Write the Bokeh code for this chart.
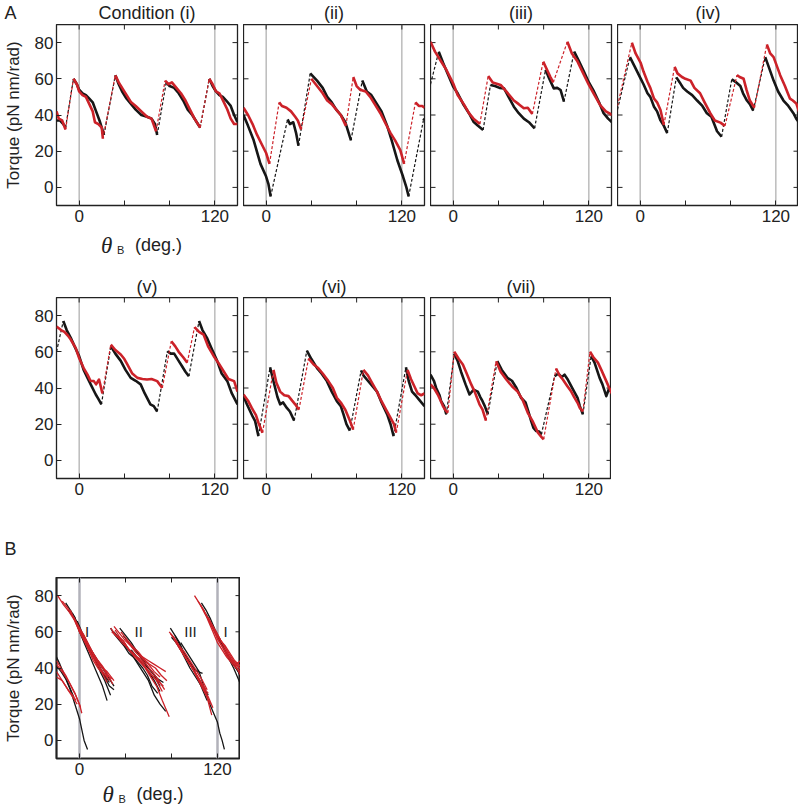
import numpy as np
from bokeh.plotting import figure
from bokeh.layouts import column, row
from bokeh.models import Label, FixedTicker, Span
from bokeh.embed import file_html
from bokeh.resources import INLINE

# ---------------- data ----------------
X_RANGE = (-20, 140)
Y_RANGE = (-10, 90)
x_ticks = [0, 40, 80, 120]
x_tick_labels = {0: "0", 40: "", 80: "", 120: "120"}
y_ticks = [0, 20, 40, 60, 80]
ref_angles = [0, 120]
y_label = "Torque (pN nm/rad)"
titles = ["Condition (i)", "(ii)", "(iii)", "(iv)", "(v)", "(vi)", "(vii)"]

# each trace: list of decreasing segments (x list, y list); consecutive segments are joined by dashed steps
i_black = [
    ([-20, -17, -14, -12], [37, 37, 35, 33]),
    ([-5, -2, 0, 3, 6, 9, 12, 15, 18, 20, 22], [60, 57, 54, 52, 51, 49, 47, 42, 37, 33, 29]),
    ([32, 35, 38, 42, 46, 50, 55, 60, 64, 67, 69], [62, 57, 53, 49, 46, 43, 40, 39, 38, 35, 29]),
    ([77, 80, 84, 88, 92, 96, 100, 104, 107], [58, 56, 55, 52, 48, 43, 40, 36, 33]),
    ([115, 118, 121, 124, 127, 130, 134, 137, 140], [60, 56, 53, 51, 50, 48, 45, 40, 36]),
]
i_red = [
    ([-20, -18, -15, -12], [42, 38, 37, 32]),
    ([-5, -2, 0, 3, 6, 9, 12, 14, 17, 20, 21], [60, 57, 53, 51, 50, 46, 42, 36, 35, 33, 27]),
    ([32, 35, 38, 42, 46, 50, 55, 60, 64, 68], [62, 58, 55, 51, 47, 45, 42, 39, 38, 31]),
    ([76, 79, 82, 86, 90, 94, 98, 102, 107], [59, 57, 58, 55, 52, 48, 43, 38, 33]),
    ([115, 118, 121, 124, 128, 131, 134, 137, 140], [60, 57, 53, 52, 47, 43, 38, 35, 35]),
]
ii_black = [
    ([-20, -16, -11, -5, 0, 2, 4], [40, 34, 26, 13, 6, 2, -5]),
    ([19, 21, 24, 26.5, 28.6], [37.6, 35, 36, 30, 23]),
    ([39, 45, 50, 54, 58, 62, 66, 70, 73, 75], [63, 59, 55, 50, 47, 43, 40, 36, 30, 26]),
    ([85, 89, 93, 98, 102, 107, 111, 116, 121, 124, 126], [59, 53, 51, 46, 42, 34, 26, 15, 6, 0, -5]),
    ([139, 140], [37, 38]),
]
ii_red = [
    ([-20, -16, -12, -8, -4, 0, 3], [44, 40, 35, 29, 24, 19, 13]),
    ([11.5, 14, 18, 22, 25.7, 28, 31], [47, 45, 44, 42, 39, 37, 32]),
    ([40, 45, 50, 54, 58, 62, 66, 70.5], [60, 56, 52, 48, 46, 43, 40, 34]),
    ([77, 80, 83, 88, 92, 96, 101, 105, 110, 114, 118.6, 122], [61, 56, 54, 53, 50, 46, 41, 36, 30, 26, 20.6, 13]),
    ([132, 135, 138, 140], [47, 45, 45, 44]),
]
iii_black = [
    ([-20], [57]),
    ([-12.7, -9, -5, 0, 4, 9.4, 14, 18, 22, 26.5], [75, 69, 63, 55.7, 52, 45.5, 41, 36.3, 34, 31.7]),
    ([33, 37, 41, 45, 49, 53.7, 58, 62.5, 67, 72], [56.6, 56, 55, 54.7, 50, 44.6, 41, 38, 36, 32.6]),
    ([81.7, 85, 89, 92, 95, 98], [65, 60, 54.7, 55, 53.8, 47.4]),
    ([107, 111, 115.6, 120, 124.5, 129, 133, 137, 140.7], [75, 70, 64, 58, 53, 47, 41, 38, 35.8]),
]
iii_red = [
    ([-20, -16, -11, -6, 0, 4, 9.4, 14, 18, 23.6], [80.5, 75, 70, 65, 57.5, 51, 46, 41, 38, 35]),
    ([31, 35, 42, 47, 53.7, 58, 62.5, 66, 70], [61.5, 58, 56.6, 53, 48, 46, 43.7, 44, 40.5]),
    ([79.6, 83, 86, 88.5], [69.5, 65, 61, 58]),
    ([101, 105, 110, 115, 120, 125, 130, 135, 140.7], [80.5, 74, 69.5, 63, 56.6, 51, 45.5, 42, 40]),
]
iv_black = [
    ([-20], [43]),
    ([-9, -5, 0.6, 3, 6.5, 9, 12.3, 15, 18, 21, 24], [72, 67, 60, 57, 52, 50, 44.6, 42, 37, 34, 30]),
    ([32, 35, 38, 41.6, 46, 50.4, 55, 59, 63, 68, 72], [60.8, 58, 55, 53, 51, 48, 45, 41, 39, 31, 28]),
    ([81, 85, 88.6, 91, 94.4, 97, 100], [59.7, 58, 56, 52, 48, 46, 42.4]),
    ([110.6, 114, 118, 122, 126.7, 131, 135.5, 138, 141], [72, 66, 59, 53, 48, 45, 41, 38, 35.4]),
]
iv_red = [
    ([-20], [45]),
    ([-7.3, -4, 0.6, 3, 6.5, 9, 12.3, 15, 18, 21], [80, 74, 68.6, 64, 58.4, 55, 49, 47, 42.8, 34.5]),
    ([30.5, 33, 37, 40, 44.6, 48, 53, 57, 62, 66, 71, 75], [66.7, 63, 61, 60, 59, 55, 52, 47, 41, 37, 35.8, 34]),
    ([85.6, 88, 91.5, 94, 97, 101], [62, 61, 60, 54, 48, 44]),
    ([112, 115, 118, 123.8, 128, 132.5, 135, 138, 141], [79, 74, 72, 62, 56, 49, 48, 46.4, 41]),
]
v_black = [
    ([-20], [60]),
    ([-14, -11, -7.4, -4, 0, 4, 7.4, 11, 14.7, 17, 19.7], [77, 72, 67.7, 63, 57.6, 50, 45.6, 41, 36.4, 34, 31]),
    ([28, 32, 36.8, 41, 45.6, 50, 54.4, 58, 63, 66, 69], [63, 59, 55, 50, 45.6, 44, 42, 37, 31, 30, 27]),
    ([78, 81, 84, 88, 91, 94, 97], [60.3, 59, 59, 55, 52, 49, 46.5]),
    ([106, 109, 113, 117, 122, 126, 131, 135, 140], [77, 72, 67.7, 62, 55, 48, 43.8, 37, 31]),
]
v_red = [
    ([-20, -16, -13, -10, -7.4, -3, 0, 4, 7.4, 10, 13, 15, 17.6, 20.6],
     [74, 72, 71, 69, 66.8, 62, 56.6, 51, 47.4, 44, 43.8, 42, 44.7, 37]),
    ([28, 32, 36.8, 40, 42.6, 47, 51.5, 56, 60, 64, 69, 73.5], [64, 61, 58.5, 56, 53, 48, 45.6, 45, 44.7, 45, 43.8, 40]),
    ([81.5, 85, 88, 92, 95.6], [65.8, 63, 60, 57, 54]),
    ([102, 106, 110, 114, 119, 123, 128, 132, 137, 140], [73.6, 71, 69.5, 63, 57.6, 54, 49, 45, 43.8, 38]),
]
vi_black = [
    ([-20, -17, -14, -11.7, -9.7, -6.8], [35.5, 31, 27, 24, 21.7, 13.4]),
    ([3.5, 6, 8, 10, 12.4, 15, 18.3, 21, 24.8], [51.5, 45, 40, 35, 31, 32, 29, 27, 22]),
    ([36, 40, 45, 49, 53.7, 58, 62.5, 66, 68.4, 71, 74], [60.7, 56, 51, 48, 43.8, 38, 32.7, 30, 25.4, 20, 16.5]),
    ([84, 86, 89, 94, 98, 102, 107, 110, 112.7], [49.7, 47, 44.7, 41, 38, 32, 25.4, 20, 13.4]),
    ([123.6, 126, 129, 132, 135, 140], [51.5, 44, 38, 36, 33.7, 30]),
]
vi_red = [
    ([-20, -16, -12.7, -9, -6.8, -3.2], [36.4, 33, 29, 25, 20.8, 15.3]),
    ([6.5, 9, 12.4, 16, 19.8, 23, 25.7, 29], [50, 43, 38, 36, 35.5, 33, 31, 28]),
    ([37.5, 42, 46, 50, 55, 59, 62.5, 66, 70, 74, 77], [56.3, 53, 51, 48, 43.8, 40, 34.6, 32, 28, 22, 17]),
    ([86, 90, 93.5, 98, 102, 106, 110, 113, 115], [50, 47, 43, 38, 32.7, 28, 23.5, 20, 15.3]),
    ([125, 128, 131, 134, 137, 140], [50, 45, 41, 37, 36, 37]),
]
vii_black = [
    ([-20, -17, -15, -12, -10.6, -8, -6], [47.4, 44, 40, 36, 32.7, 30, 25.4]),
    ([1, 4, 7, 11, 14.5, 18, 21.8, 24, 26, 28, 30.7], [58.9, 55, 49, 42, 36.4, 39, 38, 35, 32.7, 30, 25.4]),
    ([39, 43, 48, 52, 56, 60, 64, 67, 69, 71, 73.5, 76, 78], [54.8, 50, 45.6, 44, 40, 34.6, 32, 26, 21.7, 18, 16.2, 16, 14.3]),
    ([89.7, 93, 96, 98.5, 101, 104.4, 107, 110, 112, 114.7], [46.5, 48, 46, 47.4, 45, 41, 38, 34.6, 30, 25.4]),
    ([122, 125, 129.5, 132, 135.4, 138, 140.7], [57.6, 54, 45.6, 42, 35.5, 40, 36.4]),
]
vii_red = [
    ([-20, -17, -13.6, -11, -9, -7, -4.7], [42, 40, 36.4, 33, 30, 28, 26.3]),
    ([1, 5, 8.6, 12, 16, 19, 23.3, 26, 29], [60, 56, 53, 48, 42, 38, 31, 28, 22]),
    ([38, 42, 47, 52, 57, 61, 66, 70, 73, 75, 78, 80], [54.8, 49, 44.7, 41, 38, 34, 26.3, 22, 18, 15.3, 13, 11.6]),
    ([91, 94, 97, 101, 104.4, 107, 110, 112, 114.7], [50.8, 47, 44.7, 41, 38, 35, 31.8, 29, 27]),
    ([121, 124, 128, 131, 135.4, 138, 140.7], [60, 57, 54, 50, 43.8, 40, 36.4]),
]

# panel B: overlaid single-step traces
B_black = [
    ([-20, -16, -12, -8, -4, 0, 2, 4, 7], [41, 38, 34, 28, 20, 12, 6, 0, -5]),
    ([-20, -17, -13, -9, -5], [46, 42, 36, 30, 24]),
    ([-12, -8, -4, 0, 4, 8, 12, 16, 20, 24], [76, 72, 68, 60, 54, 48, 42, 36, 30, 22]),
    ([-10, -6, -2, 2, 6, 10, 14, 18, 22, 26, 30], [72, 69, 64, 58, 54, 50, 46, 42, 38, 34, 30]),
    ([-6, -2, 2, 6, 10, 14, 18, 22, 27], [70, 65, 59, 54, 49, 44, 38, 33, 25]),
    ([-2, 2, 6, 10, 14, 18, 22, 26, 30], [66, 60, 55, 50, 45, 40, 35, 30, 28]),
    ([2, 6, 10, 14, 18, 22, 26], [58, 53, 48, 44, 40, 36, 32]),
    ([27, 31, 35, 39, 43, 47, 51, 55, 59, 63, 68], [62, 58, 55, 52, 48, 46, 43, 40, 36, 30, 26]),
    ([30, 35, 40, 45, 50, 55, 60, 65, 70, 75], [60, 56, 52, 48, 43, 38, 33, 25, 20, 16]),
    ([35, 40, 45, 50, 55, 60, 65, 70], [62, 58, 54, 49, 45, 40, 36, 30]),
    ([38, 43, 48, 53, 58, 63, 68, 73], [58, 54, 50, 46, 41, 38, 34, 32]),
    ([45, 50, 55, 60, 65, 70], [50, 46, 42, 38, 33, 27]),
    ([79, 83, 87, 91, 95, 99, 103, 107, 111], [62, 58, 54, 48, 44, 40, 34, 28, 22]),
    ([80, 84, 88, 92, 96, 100, 104, 108, 112], [57, 54, 50, 45, 40, 36, 32, 28, 25]),
    ([83, 87, 91, 95, 99, 103, 107], [58, 53, 48, 44, 40, 38, 37]),
    ([88, 92, 96, 100, 104, 108, 112, 116, 120, 122, 124, 126], [54, 50, 46, 42, 38, 30, 22, 16, 10, 4, 0, -5]),
    ([106, 110, 114, 118, 122, 126, 130, 134, 138, 140], [76, 72, 67, 61, 56, 50, 45, 40, 34, 31]),
    ([110, 114, 118, 122, 126, 130, 134, 140], [70, 65, 60, 55, 50, 46, 42, 36]),
    ([114, 118, 122, 126, 130, 134, 138, 140], [65, 60, 55, 50, 46, 42, 38, 35]),
]
B_red = [
    ([-20, -16, -12, -8, -4, 0, 2], [44, 40, 36, 31, 26, 20, 15]),
    ([-20, -17, -13, -9, -5, -2], [38, 35, 31, 27, 23, 20]),
    ([-20, -15, -10, -6, -3], [35, 33, 28, 25, 22]),
    ([-20, -14, -9, -4, 1], [42, 37, 32, 26, 18]),
    ([-19, -14, -9, -4, 0, 5, 10, 15, 20, 26], [80, 75, 71, 66, 60, 55, 48, 42, 38, 33]),
    ([-15, -10, -5, 0, 5, 10, 15, 20, 25, 29], [77, 73, 68, 62, 55, 50, 45, 41, 36, 31]),
    ([-8, -4, 0, 4, 8, 12, 16, 20, 24], [72, 66, 60, 55, 50, 44, 40, 37, 32]),
    ([-5, 0, 4, 8, 12, 16, 20, 24, 28], [68, 62, 58, 53, 48, 44, 40, 36, 34]),
    ([-3, 1, 5, 9, 13, 17, 21, 25], [65, 60, 56, 51, 46, 41, 37, 35]),
    ([0, 4, 8, 12, 16, 20, 24, 30], [60, 56, 50, 46, 43, 40, 38, 33]),
    ([27, 32, 37, 42, 47, 52, 57, 62, 67, 72, 78], [62, 58, 54, 51, 48, 44, 40, 35, 30, 22, 13]),
    ([28, 33, 38, 43, 48, 53, 58, 63, 68, 74], [60, 57, 55, 50, 47, 45, 42, 38, 34, 28]),
    ([30, 35, 40, 45, 50, 55, 60, 65, 70, 75], [63, 59, 55, 52, 48, 46, 44, 42, 40, 38]),
    ([31, 35, 39, 43, 47, 51, 55, 59, 63, 67, 72], [61, 57, 54, 50, 48, 45, 43, 39, 36, 33, 27]),
    ([33, 38, 43, 48, 53, 58, 63, 68, 73], [58, 55, 50, 46, 43, 40, 36, 33, 30]),
    ([36, 41, 46, 51, 56, 61, 66, 71, 76], [60, 56, 52, 49, 45, 42, 40, 36, 33]),
    ([40, 45, 50, 55, 60, 65, 70], [56, 52, 48, 45, 42, 38, 35]),
    ([78, 82, 86, 90, 94, 98, 102, 106, 110, 114], [60, 57, 53, 48, 44, 40, 35, 30, 25, 20]),
    ([79, 83, 87, 91, 95, 99, 103, 107, 111], [59, 56, 52, 49, 45, 41, 37, 33, 28]),
    ([80, 84, 88, 92, 96, 100, 104, 108, 112, 116], [58, 55, 50, 46, 42, 38, 33, 28, 24, 18]),
    ([82, 86, 90, 94, 98, 102, 106, 110, 115], [56, 52, 48, 44, 40, 36, 31, 26, 14]),
    ([84, 88, 92, 96, 100, 104, 108, 112], [54, 50, 46, 42, 38, 34, 29, 26]),
    ([86, 90, 94, 98, 102, 106, 110], [52, 48, 44, 40, 36, 32, 28]),
    ([100, 104, 108, 112, 116, 120, 124, 128, 132, 136, 140], [80, 76, 72, 66, 60, 54, 50, 46, 43, 40, 38]),
    ([103, 107, 111, 115, 119, 123, 127, 131, 135, 140], [77, 73, 68, 63, 58, 53, 49, 45, 42, 40]),
    ([105, 109, 113, 117, 121, 125, 129, 133, 137, 140], [75, 70, 66, 61, 57, 53, 48, 44, 42, 39]),
    ([108, 112, 116, 120, 124, 128, 132, 136, 140], [72, 67, 62, 56, 52, 47, 44, 41, 36]),
    ([112, 116, 120, 124, 128, 132, 136, 140], [68, 63, 58, 54, 50, 46, 42, 44]),
    ([115, 119, 123, 127, 131, 135, 140], [64, 60, 55, 52, 48, 44, 41]),
]
B_step_names = ["I", "II", "III", "I"]
B_step_x = [6.5, 51.5, 96.5, 127]
B_step_y = 60

# ---------------- styling ----------------
BLACK = "#161616"
RED = "#cc2229"
AXC = "#222222"
FONT = "Liberation Sans"
TICK_FS = "17px"
PAGE_W = 798
LB = 56          # left border shared by every block of the column


def make_fig(fw, fh, left, right, top, bottom, show_y, outline_w=1.3):
    p = figure(frame_width=fw, frame_height=fh, x_range=X_RANGE, y_range=Y_RANGE,
               min_border_left=left, min_border_right=right,
               min_border_top=top, min_border_bottom=bottom, title=None,
               toolbar_location=None, output_backend="svg")
    p.grid.visible = False
    p.outline_line_color = AXC
    p.outline_line_width = outline_w
    p.background_fill_color = "white"
    p.border_fill_color = "white"
    xa = p.xaxis[0]
    xa.ticker = FixedTicker(ticks=x_ticks)
    xa.major_label_overrides = x_tick_labels
    xa.minor_tick_line_color = None
    xa.major_tick_in = 5
    xa.major_tick_out = 0
    xa.axis_line_color = None
    xa.major_tick_line_color = AXC
    xa.major_label_standoff = 4
    xa.major_label_text_font = FONT
    xa.major_label_text_font_size = TICK_FS
    xa.major_label_text_color = AXC
    ya = p.yaxis[0]
    if show_y:
        ya.ticker = FixedTicker(ticks=y_ticks)
        ya.minor_tick_line_color = None
        ya.major_tick_in = 5
        ya.major_tick_out = 0
        ya.axis_line_color = None
        ya.major_tick_line_color = AXC
        ya.major_label_standoff = 3
        ya.major_label_text_font = FONT
        ya.major_label_text_font_size = TICK_FS
        ya.major_label_text_color = AXC
    else:
        ya.visible = False
        p.scatter(x=[X_RANGE[0]] * len(y_ticks), y=y_ticks, marker="dash", size=10,
                  line_color=AXC, line_width=1)
    p.scatter(x=[X_RANGE[1]] * len(y_ticks), y=y_ticks, marker="dash", size=10,
              line_color=AXC, line_width=1)
    p.scatter(x=x_ticks, y=[Y_RANGE[1]] * len(x_ticks), marker="dash", angle=np.pi / 2,
              size=10, line_color=AXC, line_width=1)
    return p


def set_ylabel(p):
    ya = p.yaxis[0]
    ya.axis_label = y_label
    ya.axis_label_standoff = 9
    ya.axis_label_text_font = FONT
    ya.axis_label_text_font_size = "17px"
    ya.axis_label_text_font_style = "normal"
    ya.axis_label_text_color = AXC


def strip(h, letter=None):
    # text band; x in page pixels, y measured downward from the band's top
    s = figure(frame_width=PAGE_W - LB, frame_height=h, x_range=(LB, PAGE_W), y_range=(h, 0),
               min_border_left=LB, min_border_right=0, min_border_top=0, min_border_bottom=0,
               title=None, toolbar_location=None, output_backend="svg")
    s.xaxis.visible = False
    s.grid.visible = False
    s.outline_line_color = None
    s.background_fill_color = "white"
    s.border_fill_color = "white"
    ya = s.yaxis[0]
    if letter is None:
        ya.visible = False
    else:
        ya.ticker = FixedTicker(ticks=[])
        ya.minor_tick_line_color = None
        ya.major_tick_line_color = None
        ya.major_tick_out = 0
        ya.axis_line_color = None
        ya.axis_label = letter
        ya.axis_label_text_font = FONT
        ya.axis_label_text_font_size = "18px"
        ya.axis_label_text_font_style = "normal"
        ya.axis_label_text_color = AXC
        ya.axis_label_standoff = 40
        try:
            ya.axis_label_orientation = "horizontal"
        except Exception:
            pass
    return s


def text(s, x, y, t, size="18px", align="left", font=FONT, style="normal"):
    s.add_layout(Label(x=x, y=y, text=t, text_align=align, text_baseline="middle",
                       text_font=font, text_font_style=style, text_font_size=size,
                       text_color=AXC))


def theta_label(s, cx, y):
    text(s, cx - 46, y, "θ", size="23px", font="Liberation Serif", style="italic")
    text(s, cx - 30, y + 5, "B", size="11px")
    text(s, cx - 12, y, "(deg.)", size="18px")


def draw_trace(p, segs, color):
    for xs, ys in segs:
        if len(xs) > 1:
            p.line(xs, ys, line_color=color, line_width=2.6, line_join="round")
    for (xa, ya), (xb, yb) in zip(segs[:-1], segs[1:]):
        p.line([xa[-1], xb[0]], [ya[-1], yb[0]], line_color=color, line_width=1.2,
               line_dash="3 2")


def add_spans(p, color="#9a9a9a", width=1.0):
    for a in ref_angles:
        p.add_layout(Span(location=a, dimension="height", line_color=color,
                          line_width=width, level="underlay"))


panels = [(i_black, i_red), (ii_black, ii_red), (iii_black, iii_red), (iv_black, iv_red),
          (v_black, v_red), (vi_black, vi_red), (vii_black, vii_red)]

FW = 181
figs = []
for k, (blk, red) in enumerate(panels):
    first_row = k < 4
    col = k if first_row else k - 4
    left = LB if col == 0 else 0
    right = 0 if col == (3 if first_row else 2) else 6
    p = make_fig(FW, 181, left, right, 0, 26 if first_row else 42, show_y=(col == 0))
    add_spans(p)
    draw_trace(p, blk, BLACK)
    draw_trace(p, red, RED)
    if k == 0:
        set_ylabel(p)
    figs.append(p)

centers = [LB + FW / 2 + c * (FW + 6) for c in range(4)]

# band above row 1: panel letter and titles
s1 = strip(24, letter="A")
for c in range(4):
    text(s1, centers[c], 12, titles[c], align="center")

# band between rows: x label of row 1 and titles of row 2
s2 = strip(66)
theta_label(s2, centers[0], 13.5)
for c in range(3):
    text(s2, centers[c], 55, titles[4 + c], align="center")

# band above panel B
s3 = strip(57, letter="B")

# panel B
pB = make_fig(184, 181, LB, 0, 0, 22, show_y=True, outline_w=2.2)
add_spans(pB, color="#b2b2ba", width=2.5)
for xs, ys in B_black:
    pB.line(xs, ys, line_color=BLACK, line_width=1.3)
for xs, ys in B_red:
    pB.line(xs, ys, line_color=RED, line_width=1.3)
for name, bx in zip(B_step_names, B_step_x):
    pB.add_layout(Label(x=bx, y=B_step_y, text=name, text_align="center",
                        text_baseline="middle", text_font=FONT, text_font_size="15px",
                        text_color=AXC))
set_ylabel(pB)

s4 = strip(28)
theta_label(s4, LB + 184 / 2, 13.5)

layout = column(s1, row(*figs[:4]), s2, row(*figs[4:]), s3, pB, s4)

with open("out.html", "w") as f:
    f.write(file_html(layout, INLINE))
